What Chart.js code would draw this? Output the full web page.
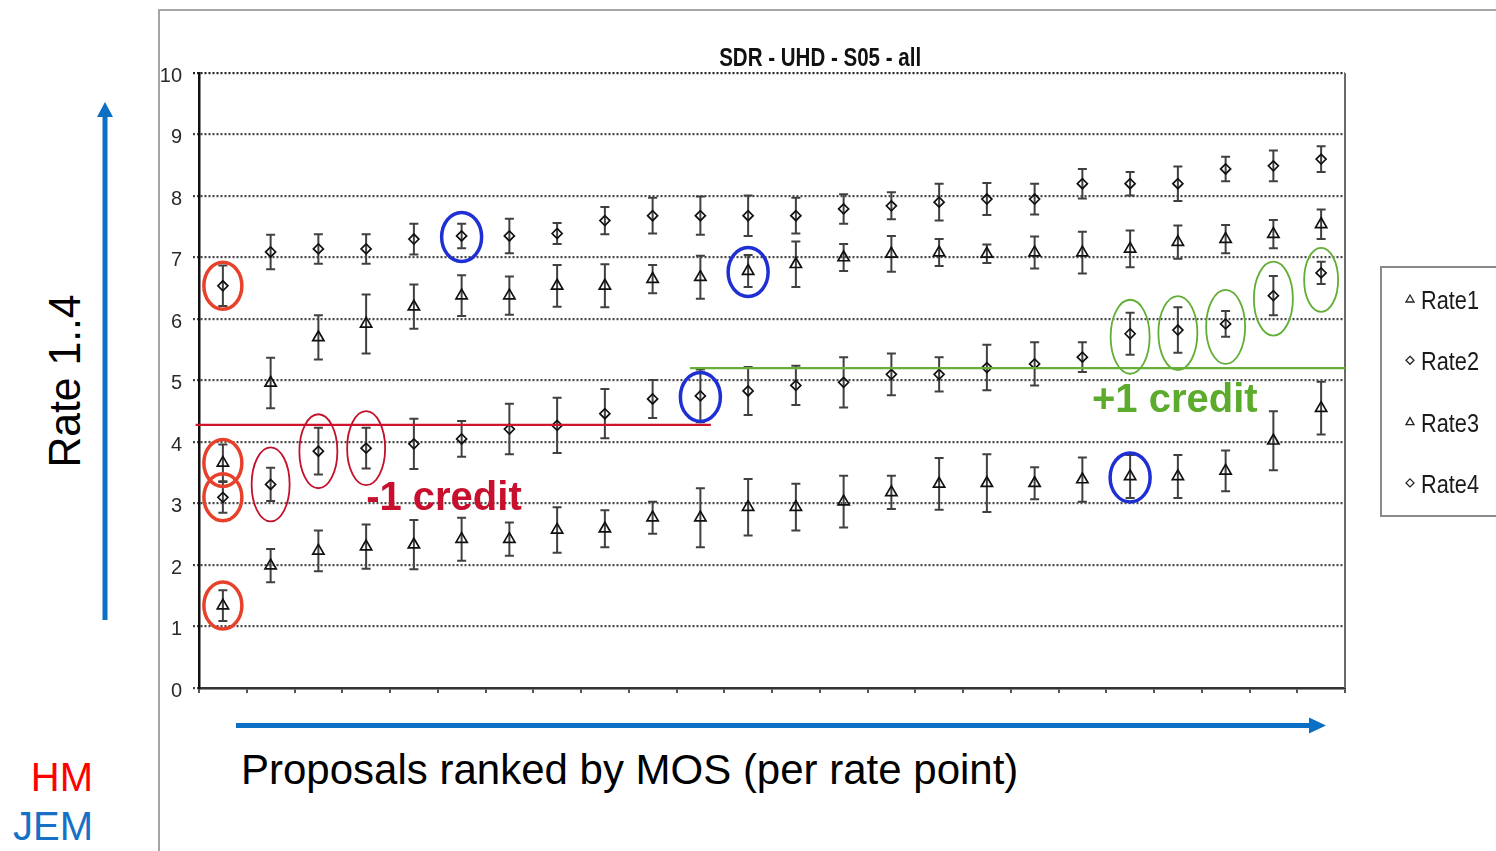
<!DOCTYPE html>
<html>
<head>
<meta charset="utf-8">
<script src="https://cdn.jsdelivr.net/npm/chart.js@4.4.1/dist/chart.umd.min.js"></script>
<style>
  html, body { margin: 0; padding: 0; background: #fff; }
  body { width: 1496px; height: 851px; overflow: hidden; position: relative;
         font-family: 'Liberation Sans', Arial, sans-serif; }
  .frame { position: absolute; background: #a5a5a5; }
  .txt { position: absolute; white-space: nowrap; line-height: 1; }
  #chart { position: absolute; left: 0; top: 0; }
  svg { position: absolute; left: 0; top: 0; }
</style>
</head>
<body>
<div class="frame" style="left:158px;top:9px;width:2px;height:842px"></div>
<div class="frame" style="left:158px;top:9px;width:1338px;height:2px"></div>

<svg width="1496" height="851">
  <line x1="105" y1="620" x2="105" y2="114" stroke="#0b6fc3" stroke-width="5"/>
  <polygon points="105,102 97,117 113,117" fill="#0b6fc3"/>
  <line x1="236" y1="725.5" x2="1311" y2="725.5" stroke="#0b6fc3" stroke-width="5"/>
  <polygon points="1326,725.5 1309,717.5 1309,733.5" fill="#0b6fc3"/>
</svg>

<div class="txt" style="left:65px;top:381px;font-size:44px;color:#000;transform:translate(-50%,-50%) rotate(-90deg) scaleX(0.97)">Rate 1..4</div>
<div class="txt" style="left:241px;top:749px;font-size:42px;color:#000">Proposals ranked by MOS (per rate point)</div>
<div class="txt" style="left:0;width:93px;text-align:right;top:757px;font-size:40px;color:#ff0000">HM</div>
<div class="txt" style="left:0;width:93px;text-align:right;top:806px;font-size:40px;color:#1570c6">JEM</div>

<canvas id="chart" width="1496" height="851"></canvas>

<script>
// Proposals, ranked by MOS separately for each rate point
const categories = ['P1','P2','P3','P4','P5','P6','P7','P8','P9','P10','P11','P12',
                    'P13','P14','P15','P16','P17','P18','P19','P20','P21','P22','P23','P24'];
const seriesNames = ['Rate1', 'Rate2', 'Rate3', 'Rate4'];

// Mean opinion scores per rate point
const rate1 = [1.34, 1.99, 2.23, 2.30, 2.33, 2.42, 2.42, 2.57, 2.59, 2.77, 2.77, 2.94,
               2.94, 3.03, 3.18, 3.32, 3.33, 3.33, 3.39, 3.44, 3.44, 3.53, 4.02, 4.55];
const rate2 = [3.10, 3.31, 3.85, 3.90, 3.97, 4.05, 4.21, 4.27, 4.46, 4.70, 4.75, 4.83,
               4.92, 4.97, 5.10, 5.10, 5.21, 5.27, 5.38, 5.76, 5.82, 5.92, 6.38, 6.75];
const rate3 = [3.66, 4.96, 5.70, 5.92, 6.20, 6.38, 6.38, 6.54, 6.54, 6.65, 6.68, 6.78,
               6.89, 7.00, 7.06, 7.08, 7.06, 7.08, 7.08, 7.14, 7.25, 7.30, 7.38, 7.54];
const rate4 = [6.54, 7.09, 7.14, 7.14, 7.30, 7.35, 7.35, 7.39, 7.60, 7.68, 7.68, 7.68,
               7.68, 7.79, 7.84, 7.90, 7.95, 7.95, 8.20, 8.20, 8.20, 8.44, 8.49, 8.60];

// Confidence interval half-widths
const ci1 = [0.25, 0.27, 0.33, 0.36, 0.40, 0.35, 0.27, 0.37, 0.30, 0.26, 0.48, 0.46,
             0.38, 0.42, 0.27, 0.42, 0.47, 0.26, 0.36, 0.35, 0.35, 0.33, 0.48, 0.43];
const ci2 = [0.25, 0.27, 0.38, 0.33, 0.41, 0.29, 0.41, 0.45, 0.40, 0.31, 0.43, 0.39,
             0.32, 0.41, 0.34, 0.28, 0.37, 0.35, 0.24, 0.34, 0.37, 0.21, 0.32, 0.18];
const ci3 = [0.30, 0.41, 0.36, 0.48, 0.36, 0.33, 0.31, 0.34, 0.35, 0.23, 0.35, 0.26,
             0.37, 0.22, 0.29, 0.22, 0.15, 0.26, 0.34, 0.30, 0.27, 0.23, 0.23, 0.24];
const ci4 = [0.33, 0.28, 0.24, 0.24, 0.25, 0.20, 0.28, 0.17, 0.22, 0.29, 0.31, 0.33,
             0.29, 0.24, 0.22, 0.30, 0.26, 0.25, 0.24, 0.19, 0.28, 0.20, 0.25, 0.21];

const yTicks = [0, 1, 2, 3, 4, 5, 6, 7, 8, 9, 10];

// Highlighted points: [series index, proposal index]
const hmMarks   = [[3, 0], [2, 0], [1, 0], [0, 0]];
const lossMarks = [[1, 1], [1, 2], [1, 3]];
const jemMarks  = [[3, 5], [2, 11], [1, 10], [0, 19]];
const gainMarks = [[1, 19], [1, 20], [1, 21], [1, 22], [1, 23]];

// Credit thresholds (MOS) and their extent in proposal index units
const lossLevel = 4.28, lossFrom = -0.57, lossTo = 10.22;
const gainLevel = 5.20, gainFrom = 9.78, gainTo = 23.5;

const SANS = "'Liberation Sans', Arial, sans-serif";

// Draws text squeezed horizontally to a given width (condensed look)
function condensedText(ctx, text, x, y, width, align) {
  const w = ctx.measureText(text).width;
  const s = Math.min(1, width / w);
  ctx.save();
  ctx.translate(x, y);
  ctx.scale(s, 1);
  ctx.textAlign = align;
  ctx.fillText(text, 0, 0);
  ctx.restore();
}

const errorBars = {
  id: 'errorBars',
  beforeDatasetsDraw(chart) {
    const { ctx, scales: { y } } = chart;
    ctx.save();
    ctx.strokeStyle = '#404040';
    ctx.lineWidth = 2;
    chart.data.datasets.forEach((ds, di) => {
      chart.getDatasetMeta(di).data.forEach((pt, i) => {
        const v = ds.data[i], e = ds.errors[i];
        const yt = y.getPixelForValue(v + e), yb = y.getPixelForValue(v - e);
        ctx.beginPath();
        ctx.moveTo(pt.x, yt); ctx.lineTo(pt.x, yb);
        ctx.moveTo(pt.x - 4.5, yt); ctx.lineTo(pt.x + 4.5, yt);
        ctx.moveTo(pt.x - 4.5, yb); ctx.lineTo(pt.x + 4.5, yb);
        ctx.stroke();
      });
    });
    ctx.restore();
  }
};

function ellipseAt(ctx, chart, mark, rx, ry, dy, color, width) {
  const pt = chart.getDatasetMeta(mark[0]).data[mark[1]];
  ctx.beginPath();
  ctx.ellipse(pt.x, pt.y + dy, rx, ry, 0, 0, Math.PI * 2);
  ctx.strokeStyle = color;
  ctx.lineWidth = width;
  ctx.stroke();
}

const decorations = {
  id: 'decorations',
  afterDraw(chart) {
    const { ctx, chartArea: a, scales: { x, y } } = chart;
    ctx.save();

    // right frame of the plot
    ctx.strokeStyle = '#6a6a6a';
    ctx.lineWidth = 2;
    ctx.beginPath();
    ctx.moveTo(a.right, a.top); ctx.lineTo(a.right, a.bottom);
    ctx.stroke();

    // title
    ctx.fillStyle = '#111';
    ctx.font = 'bold 26px ' + SANS;
    ctx.textBaseline = 'alphabetic';
    condensedText(ctx, 'SDR - UHD - S05 - all', a.left + 0.542 * (a.right - a.left), 66, 202, 'center');

    // credit thresholds
    ctx.lineWidth = 2.2;
    ctx.strokeStyle = '#d0142c';
    ctx.beginPath();
    ctx.moveTo(x.getPixelForValue(lossFrom), y.getPixelForValue(lossLevel));
    ctx.lineTo(x.getPixelForValue(lossTo), y.getPixelForValue(lossLevel));
    ctx.stroke();
    ctx.strokeStyle = '#66b03a';
    ctx.beginPath();
    ctx.moveTo(x.getPixelForValue(gainFrom), y.getPixelForValue(gainLevel));
    ctx.lineTo(x.getPixelForValue(gainTo), y.getPixelForValue(gainLevel));
    ctx.stroke();

    // highlighted points
    hmMarks.forEach(m => ellipseAt(ctx, chart, m, 19, 23.5, 0, '#e8412b', 3.5));
    lossMarks.forEach(m => ellipseAt(ctx, chart, m, 19, 37, 0, '#c3102c', 1.8));
    jemMarks.forEach(m => ellipseAt(ctx, chart, m, 20, 24.5, 1, '#1e2fd4', 3.5));
    gainMarks.forEach((m, i) => {
      const last = i === gainMarks.length - 1;
      ellipseAt(ctx, chart, m, last ? 17 : 19.5, last ? 32 : 37, last ? 7 : 3, '#62ad35', 1.8);
    });

    // credit labels
    ctx.textAlign = 'left';
    ctx.font = 'bold 40px ' + SANS;
    ctx.fillStyle = '#c8102e';
    ctx.fillText('-1 credit', x.getPixelForValue(3), y.getPixelForValue(2.9));
    ctx.fillStyle = '#5cab2c';
    ctx.fillText('+1 credit', x.getPixelForValue(18.2), y.getPixelForValue(4.49));

    // legend
    const lx = a.right + 36, ly = 267;
    ctx.strokeStyle = '#8a8a8a';
    ctx.lineWidth = 2;
    ctx.strokeRect(lx, ly, 140, 249);
    ctx.font = '25px ' + SANS;
    ctx.fillStyle = '#1a1a1a';
    chart.data.datasets.forEach((ds, i) => {
      const base = ly + 42 + i * 61.3;
      const sx = lx + 29, sy = base - 10;
      ctx.beginPath();
      if (ds.pointStyle === 'triangle') {
        ctx.moveTo(sx, sy - 4); ctx.lineTo(sx + 4, sy + 3); ctx.lineTo(sx - 4, sy + 3); ctx.closePath();
      } else {
        ctx.moveTo(sx, sy - 4); ctx.lineTo(sx + 4, sy); ctx.lineTo(sx, sy + 4); ctx.lineTo(sx - 4, sy); ctx.closePath();
      }
      ctx.strokeStyle = '#222';
      ctx.lineWidth = 1.3;
      ctx.stroke();
      condensedText(ctx, ds.label, lx + 40, base, 58, 'left');
    });
    ctx.restore();
  }
};

function series(label, data, errors, style, radius) {
  return {
    label, data, errors,
    showLine: false,
    pointStyle: style,
    pointRadius: radius,
    pointBorderWidth: 1.7,
    borderColor: '#111',
    pointBorderColor: '#111',
    pointBackgroundColor: 'rgba(255,255,255,0)'
  };
}

const gridColor = c => (c.tick && c.tick.value === 10 ? '#222' : '#444');

new Chart(document.getElementById('chart'), {
  type: 'line',
  data: {
    labels: categories,
    datasets: [
      series(seriesNames[0], rate1, ci1, 'triangle', 6.5),
      series(seriesNames[1], rate2, ci2, 'rectRot', 5),
      series(seriesNames[2], rate3, ci3, 'triangle', 6.5),
      series(seriesNames[3], rate4, ci4, 'rectRot', 5)
    ]
  },
  options: {
    responsive: false,
    animation: false,
    layout: { padding: { left: 149, right: 151, top: 73, bottom: 153 } },
    plugins: { legend: { display: false }, title: { display: false }, tooltip: { enabled: false } },
    scales: {
      x: {
        offset: true,
        ticks: { display: false },
        grid: { offset: true, drawOnChartArea: false, drawTicks: true, tickLength: 5,
                color: '#555', lineWidth: 2 },
        border: { display: true, color: '#333', width: 2.5 },
        afterFit(s) { s.height = 10; }
      },
      y: {
        min: yTicks[0], max: yTicks[yTicks.length - 1],
        afterBuildTicks(s) { s.ticks = yTicks.map(v => ({ value: v })); },
        ticks: { color: '#2a2a2a', font: { family: SANS, size: 20 }, padding: 11, labelOffset: 3 },
        grid: {
          color: gridColor,
          tickColor: gridColor,
          lineWidth: 2.2, tickLength: 6, tickBorderDash: [2, 2]
        },
        border: { display: true, color: '#111', width: 2.5, dash: [2, 2] },
        afterFit(s) { s.width = 50; }
      }
    }
  },
  plugins: [errorBars, decorations]
});
</script>
</body>
</html>
